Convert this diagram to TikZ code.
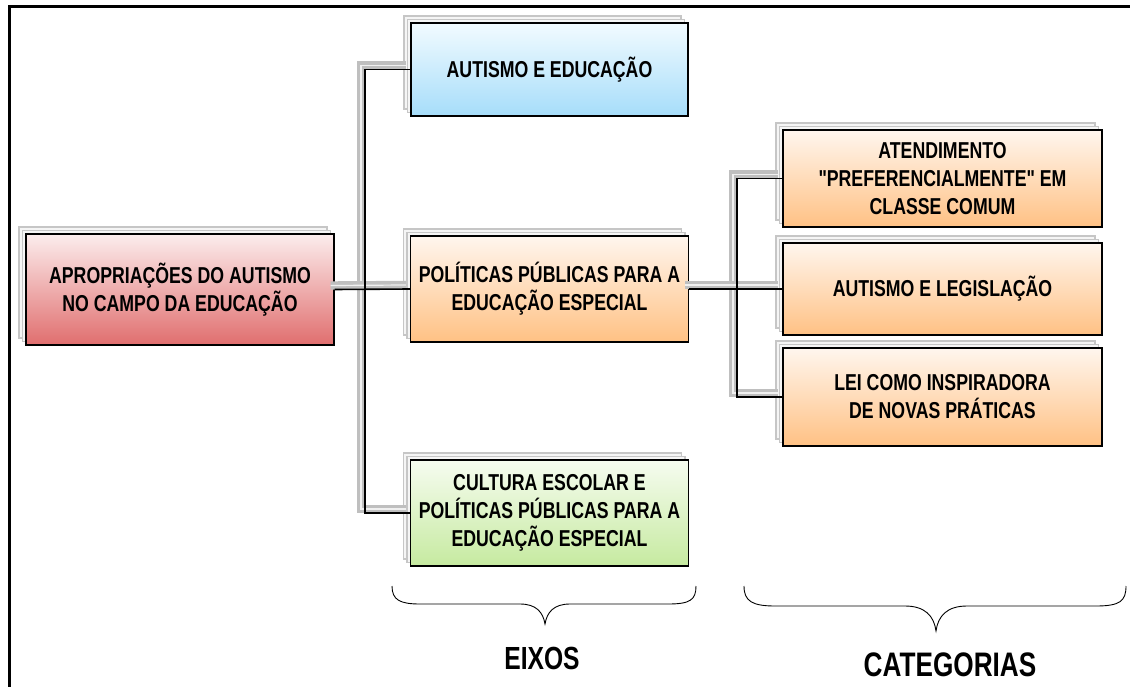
\documentclass[tikz,border=0pt]{standalone}
\usepackage{fontspec}
\setmainfont{Liberation Sans}[FakeStretch=0.77]
\newfontfamily\plainq{Liberation Sans}[FakeStretch=0.77]
\usetikzlibrary{shadows}
\definecolor{rootTop}{HTML}{FCEDED}
\definecolor{rootBot}{HTML}{E06E6E}
\definecolor{blueTop}{HTML}{F2FBFF}
\definecolor{blueBot}{HTML}{A6DDFA}
\definecolor{oraTop}{HTML}{FFF6EE}
\definecolor{oraBot}{HTML}{FFC184}
\definecolor{greTop}{HTML}{F6FCF0}
\definecolor{greBot}{HTML}{C6EAA0}
\newcommand{\sq}{{\plainq\bfseries"}}
\tikzset{
  box/.style={draw=black, line width=1.4pt, align=center, inner sep=2pt,
    font=\bfseries\fontsize{23}{28}\selectfont,
    double copy shadow={shadow xshift=-3.5pt, shadow yshift=3.5pt, fill=gray!8, draw=gray!45, line width=1.3pt}},
  rootbox/.style={box, top color=rootTop, bottom color=rootBot},
  bluebox/.style={box, top color=blueTop, bottom color=blueBot},
  orabox/.style={box, top color=oraTop, bottom color=oraBot},
  grebox/.style={box, top color=greTop, bottom color=greBot},
  conn/.style={line width=1.6pt, black},
  connshadow/.style={draw=gray!50, line width=3.6pt, double=gray!12, double distance=1.2pt,
    transform canvas={xshift=-4pt, yshift=4pt}},
  bracepath/.style={line width=0.9pt, black},
  caption/.style={font=\bfseries\fontsize{32}{36}\selectfont}
}
\begin{document}
\begin{tikzpicture}[x=1pt, y=-1pt]
\useasboundingbox (0,0) rectangle (1130,687);
\draw[line width=3pt] (9.5,1200) -- (9.5,6.5) -- (1200,6.5);

% nodes
\node[rootbox, minimum width=308pt, minimum height=111pt] (root) at (180,289.5)
  {APROPRIAÇÕES DO AUTISMO\\NO CAMPO DA EDUCAÇÃO};
\node[bluebox, minimum width=277pt, minimum height=93pt] (top) at (549.5,69.5)
  {AUTISMO E EDUCAÇÃO};
\node[orabox, minimum width=278pt, minimum height=106pt] (mid) at (549.5,289)
  {POLÍTICAS PÚBLICAS PARA A\\EDUCAÇÃO ESPECIAL};
\node[grebox, minimum width=278pt, minimum height=106pt] (bot) at (549.5,513)
  {CULTURA ESCOLAR E\\POLÍTICAS PÚBLICAS PARA A\\EDUCAÇÃO ESPECIAL};
\node[orabox, minimum width=319pt, minimum height=97pt] (cat1) at (942.5,178.5)
  {ATENDIMENTO\\\sq PREFERENCIALMENTE\sq\ EM\\CLASSE COMUM};
\node[orabox, minimum width=319pt, minimum height=92pt] (cat2) at (942.5,289)
  {AUTISMO E LEGISLAÇÃO};
\node[orabox, minimum width=319pt, minimum height=98pt] (cat3) at (942.5,397)
  {LEI COMO INSPIRADORA\\DE NOVAS PRÁTICAS};

\coordinate (trunk) at (365,300);
\coordinate (rtrunk) at (737,300);

% connector shadows
\draw[connshadow] (top.west) -| (trunk) |- (bot.west);
\draw[connshadow] (root.east) -- (mid.west);
\draw[connshadow] (cat1.west) -| (rtrunk) |- (cat3.west);
\draw[connshadow] (mid.east) -- (cat2.west);

% connectors
\draw[conn] (top.west) -| (trunk) |- (bot.west);
\draw[conn] (root.east) -- (mid.west);
\draw[conn] (cat1.west) -| (rtrunk) |- (cat3.west);
\draw[conn] (mid.east) -- (cat2.west);

% braces
\draw[bracepath] (392,586) .. controls (392,600) and (400,604) .. (420,604)
  -- (520,604) .. controls (536,604) and (543,612) .. (545,624)
  .. controls (547,612) and (554,604) .. (570,604)
  -- (668,604) .. controls (690,604) and (696,600) .. (696,586);
\draw[bracepath] (744,586) .. controls (744,601) and (752,606) .. (775,606)
  -- (905,606) .. controls (925,606) and (934,616) .. (936,631)
  .. controls (938,616) and (947,606) .. (967,606)
  -- (1096,606) .. controls (1120,606) and (1126,601) .. (1126,586);

\node[caption] (eixos) at (542,658) {EIXOS};
\node[caption, font=\bfseries\fontsize{34}{38}\selectfont] (cats) at (950,665) {CATEGORIAS};
\end{tikzpicture}
\end{document}
